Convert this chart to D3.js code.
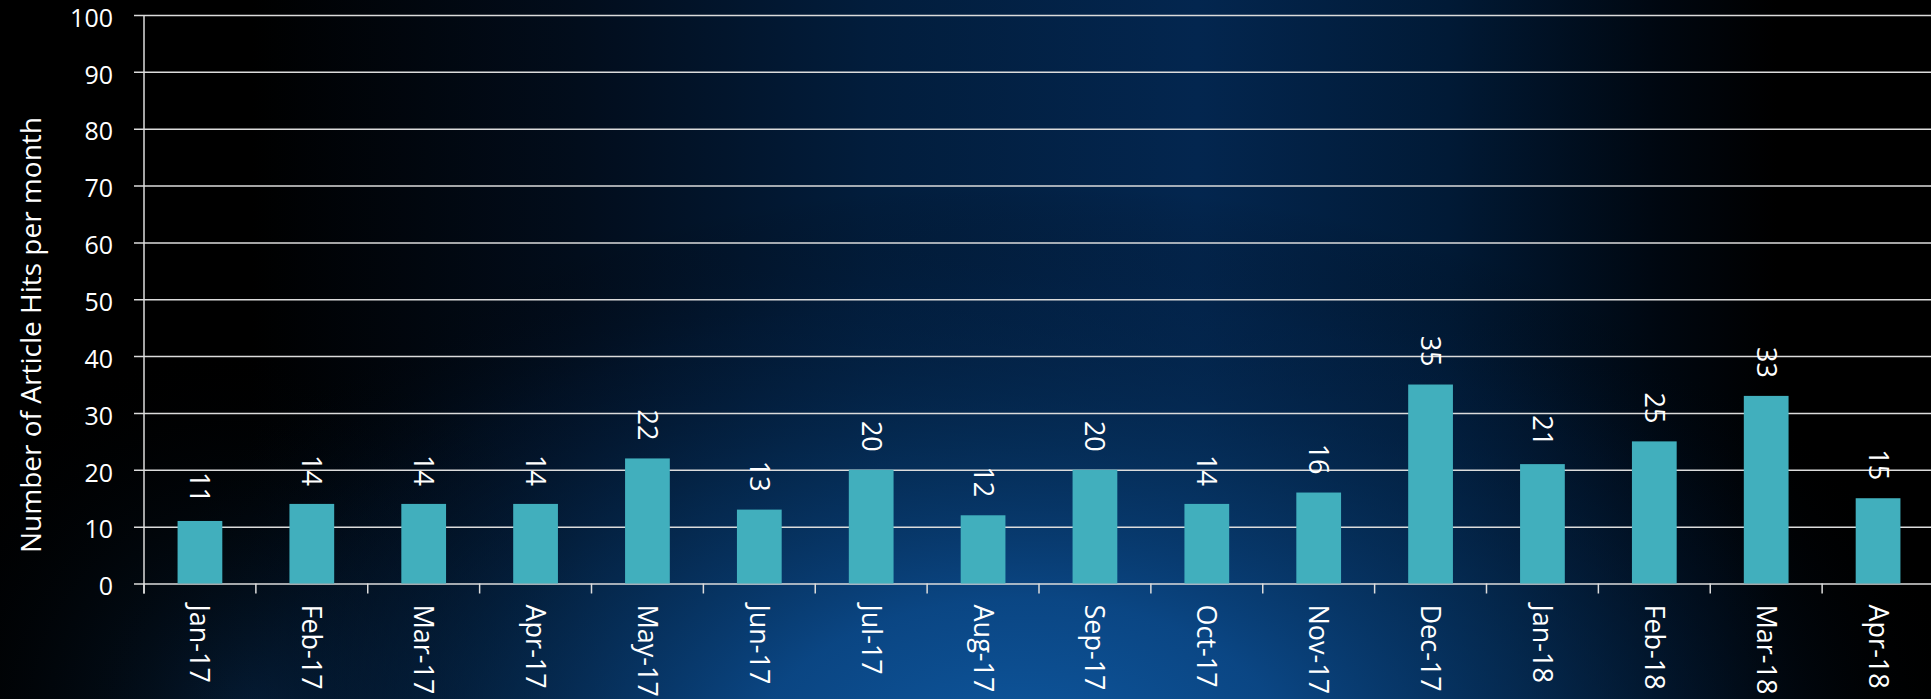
<!DOCTYPE html>
<html>
<head>
<meta charset="utf-8">
<script src="https://cdn.jsdelivr.net/npm/d3@7"></script>
<style>
  body { margin: 0; background: #000; overflow: hidden; }
  svg { display: block; }
  text { font-family: "Open Sans", "Noto Sans", sans-serif; fill: #fff; }
</style>
</head>
<body>
<script>
const months = [
  "Jan-17", "Feb-17", "Mar-17", "Apr-17", "May-17", "Jun-17", "Jul-17", "Aug-17",
  "Sep-17", "Oct-17", "Nov-17", "Dec-17", "Jan-18", "Feb-18", "Mar-18", "Apr-18"
];
const hits = [11, 14, 14, 14, 22, 13, 20, 12, 20, 14, 16, 35, 21, 25, 33, 15];
const yTicks = [0, 10, 20, 30, 40, 50, 60, 70, 80, 90, 100];
const yTitle = "Number of Article Hits per month";

const width = 1931;
const height = 699;
const plotLeft = 144;
const plotRight = 1934;
const plotTop = 15;
const plotBottom = 583.5;

const svg = d3.select("body")
  .append("svg")
  .attr("width", width)
  .attr("height", height);

// backdrop: dark navy band in the middle, blue glow near the bottom
const defs = svg.append("defs");

const band = defs.append("linearGradient")
  .attr("id", "band")
  .attr("x1", 0).attr("x2", 1).attr("y1", 0).attr("y2", 0);
[[0, "#000000"], [0.13, "#000000"], [0.3, "#020d1c"], [0.45, "#021d3c"],
 [0.62, "#03264f"], [0.75, "#011a36"], [0.86, "#000710"], [0.92, "#000000"], [1, "#000000"]]
  .forEach(([o, c]) => band.append("stop").attr("offset", o).attr("stop-color", c));

const glow = defs.append("radialGradient")
  .attr("id", "glow")
  .attr("gradientUnits", "userSpaceOnUse")
  .attr("cx", 1020).attr("cy", 760).attr("r", 800)
  .attr("gradientTransform", "translate(1020 760) scale(1.2 0.72) translate(-1020 -760)");
[[0, "#0e58a0", 1], [0.28, "#0b4887", 0.95], [0.55, "#06325f", 0.65],
 [0.8, "#031f40", 0.25], [1, "#000000", 0]]
  .forEach(([o, c, a]) => glow.append("stop")
    .attr("offset", o).attr("stop-color", c).attr("stop-opacity", a));

// faint navy haze in the lower left corner
const haze = defs.append("radialGradient")
  .attr("id", "haze")
  .attr("gradientUnits", "userSpaceOnUse")
  .attr("cx", 250).attr("cy", 720).attr("r", 380);
[[0, "#06223f", 0.8], [1, "#000000", 0]]
  .forEach(([o, c, a]) => haze.append("stop")
    .attr("offset", o).attr("stop-color", c).attr("stop-opacity", a));

svg.append("rect").attr("width", width).attr("height", height).attr("fill", "url(#band)");
svg.append("rect").attr("width", width).attr("height", height).attr("fill", "url(#haze)");
svg.append("rect").attr("width", width).attr("height", height).attr("fill", "url(#glow)");

const slot = d3.scaleBand()
  .domain(months)
  .range([plotLeft, plotRight]);

const x = d3.scaleBand()
  .domain(months)
  .range([plotLeft, plotRight])
  .paddingInner(0.6)
  .paddingOuter(0.3);

const y = d3.scaleLinear()
  .domain([0, 100])
  .range([plotBottom, plotTop]);

// gridlines and y axis
const yAxis = svg.append("g")
  .attr("transform", `translate(${plotLeft},0)`)
  .call(d3.axisLeft(y)
    .tickValues(yTicks)
    .tickSize(-(plotRight - plotLeft))
    .tickSizeOuter(0)
    .tickPadding(31));

yAxis.select(".domain").remove();
yAxis.selectAll(".tick line")
  .attr("x1", -10)
  .attr("stroke", "#dcdcdc")
  .attr("stroke-width", 1.5);
yAxis.selectAll(".tick text")
  .attr("font-size", 25)
  .attr("dy", "0.45em")
  .attr("fill", "#fff")
  .style("font-family", "'Open Sans', sans-serif");

svg.append("line")
  .attr("x1", plotLeft).attr("x2", plotLeft)
  .attr("y1", plotTop).attr("y2", plotBottom + 10)
  .attr("stroke", "#dcdcdc")
  .attr("stroke-width", 1.5);

// bars
svg.append("g")
  .selectAll("rect")
  .data(hits)
  .join("rect")
  .attr("x", (d, i) => x(months[i]))
  .attr("y", d => y(d))
  .attr("width", x.bandwidth())
  .attr("height", d => y(0) - y(d))
  .attr("fill", "#41afbd");

// value labels, rotated to read downwards
svg.append("g")
  .selectAll("text")
  .data(hits)
  .join("text")
  .attr("transform", (d, i) =>
    `translate(${x(months[i]) + x.bandwidth() / 2},${y(d) - 18}) rotate(90)`)
  .attr("text-anchor", "end")
  .attr("dy", "0.35em")
  .attr("font-size", 27)
  .text(d => d);

// category ticks sit on the slot boundaries
svg.append("g")
  .selectAll("line")
  .data(months.map(m => slot(m)).concat([plotRight]))
  .join("line")
  .attr("x1", d => d).attr("x2", d => d)
  .attr("y1", plotBottom).attr("y2", plotBottom + 10)
  .attr("stroke", "#dcdcdc")
  .attr("stroke-width", 1.5);

svg.append("g")
  .selectAll("text")
  .data(months)
  .join("text")
  .attr("transform", d =>
    `translate(${slot(d) + slot.bandwidth() / 2},${plotBottom + 21}) rotate(90)`)
  .attr("dy", "0.35em")
  .attr("font-size", 27)
  .text(d => d);

// y axis title
svg.append("text")
  .attr("transform", "translate(31,335) rotate(-90)")
  .attr("text-anchor", "middle")
  .attr("dy", "0.35em")
  .attr("font-size", 28)
  .text(yTitle);
</script>
</body>
</html>
